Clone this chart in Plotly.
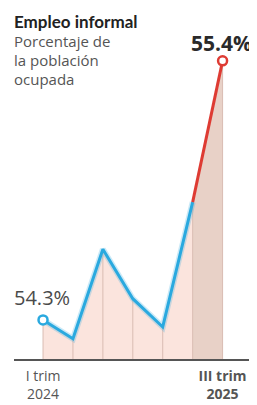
import plotly.graph_objects as go

quarters = ["I trim 2024", "II trim 2024", "III trim 2024", "IV trim 2024",
            "I trim 2025", "II trim 2025", "III trim 2025"]
values = [54.3, 54.22, 54.6, 54.39, 54.27, 54.8, 55.4]
tick_labels = ["I trim<br>2024", "<b>III trim<br>2025</b>"]
title = "Empleo informal"
subtitle_lines = ["Porcentaje de", "la población", "ocupada"]

x = list(range(len(values)))
y_min = 54.134
y_max = 55.616

BLUE = "#2aa9df"
RED = "#de3b33"
FONT = "Open Sans"

# The page body has an 8px default margin; the figure is sized so that it
# ends exactly at the window edges.
PAGE_OFF = 8
W, H = 257 - PAGE_OFF, 405 - PAGE_OFF
PLOT_L, PLOT_R, PLOT_T, PLOT_B = 14, 257, 10, 359  # plot area in page pixels


def px_x(p):
    return (p - PLOT_L) / (PLOT_R - PLOT_L)


def px_y(p):
    return (PLOT_B - p) / (PLOT_B - PLOT_T)


fig = go.Figure()

fig.add_trace(go.Scatter(x=x[:-1], y=values[:-1], mode="lines", line=dict(width=0),
                         fill="tozeroy", fillcolor="#fbe4dd", hoverinfo="skip", showlegend=False))
fig.add_trace(go.Scatter(x=x[-2:], y=values[-2:], mode="lines", line=dict(width=0),
                         fill="tozeroy", fillcolor="#e8d1c7", hoverinfo="skip", showlegend=False))

vx, vy = [], []
for xi, v in zip(x, values):
    vx += [xi, xi, None]
    vy += [y_min, v, None]
fig.add_trace(go.Scatter(x=vx, y=vy, mode="lines", line=dict(color="#d9bcb2", width=1),
                         hoverinfo="skip", showlegend=False))

fig.add_trace(go.Scatter(x=x[:-1], y=values[:-1], mode="lines",
                         line=dict(color="rgba(42,169,223,0.25)", width=6),
                         hoverinfo="skip", showlegend=False))
fig.add_trace(go.Scatter(x=x[:-1], y=values[:-1], mode="lines",
                         line=dict(color=BLUE, width=3), showlegend=False))
fig.add_trace(go.Scatter(x=x[-2:], y=values[-2:], mode="lines",
                         line=dict(color=RED, width=3), showlegend=False))
fig.add_trace(go.Scatter(x=[x[0]], y=[values[0]], mode="markers",
                         marker=dict(size=9, color="white", line=dict(color=BLUE, width=2.5)),
                         showlegend=False))
fig.add_trace(go.Scatter(x=[x[-1]], y=[values[-1]], mode="markers",
                         marker=dict(size=9, color="white", line=dict(color=RED, width=2.5)),
                         showlegend=False))

annotations = [
    dict(x=x[0], y=values[0], xref="x", yref="y", text=f"{values[0]:.1f}%",
         showarrow=False, xshift=-1, yshift=22,
         font=dict(family=FONT, size=20, color="#4a4a4a")),
    dict(x=x[-1], y=values[-1], xref="x", yref="y", text=f"<b>{values[-1]:.1f}%</b>",
         showarrow=False, xshift=-1, yshift=18,
         font=dict(family=FONT, size=21, color="#2a2a2a")),
    dict(x=px_x(12), y=px_y(21), xref="paper", yref="paper", text=f"<b>{title}</b>",
         showarrow=False, xanchor="left", yanchor="middle",
         font=dict(family="Lato", size=17, color="#222222")),
]
for i, line in enumerate(subtitle_lines):
    annotations.append(dict(x=px_x(12), y=px_y(41 + 19 * i), xref="paper", yref="paper",
                            text=line, showarrow=False, xanchor="left", yanchor="middle",
                            font=dict(family=FONT, size=15, color="#555555")))

fig.update_layout(
    width=W, height=H,
    margin=dict(l=PLOT_L - PAGE_OFF, r=PAGE_OFF + W - PLOT_R, t=PLOT_T - PAGE_OFF,
                b=PAGE_OFF + H - PLOT_B, pad=0),
    paper_bgcolor="white", plot_bgcolor="white",
    showlegend=False,
    annotations=annotations,
    xaxis=dict(range=[-0.97, 7.15], showgrid=False, zeroline=False, automargin=False,
               showline=True, linecolor="#555555", linewidth=1.5,
               tickvals=[x[0], x[-1]], ticktext=tick_labels, ticks="",
               ticklabelstandoff=3,
               tickfont=dict(family=FONT, size=14, color="#555555")),
    yaxis=dict(range=[y_min, y_max], showgrid=False, zeroline=False, automargin=False,
               showticklabels=False, showline=False),
)

fig.write_html("out.html")
